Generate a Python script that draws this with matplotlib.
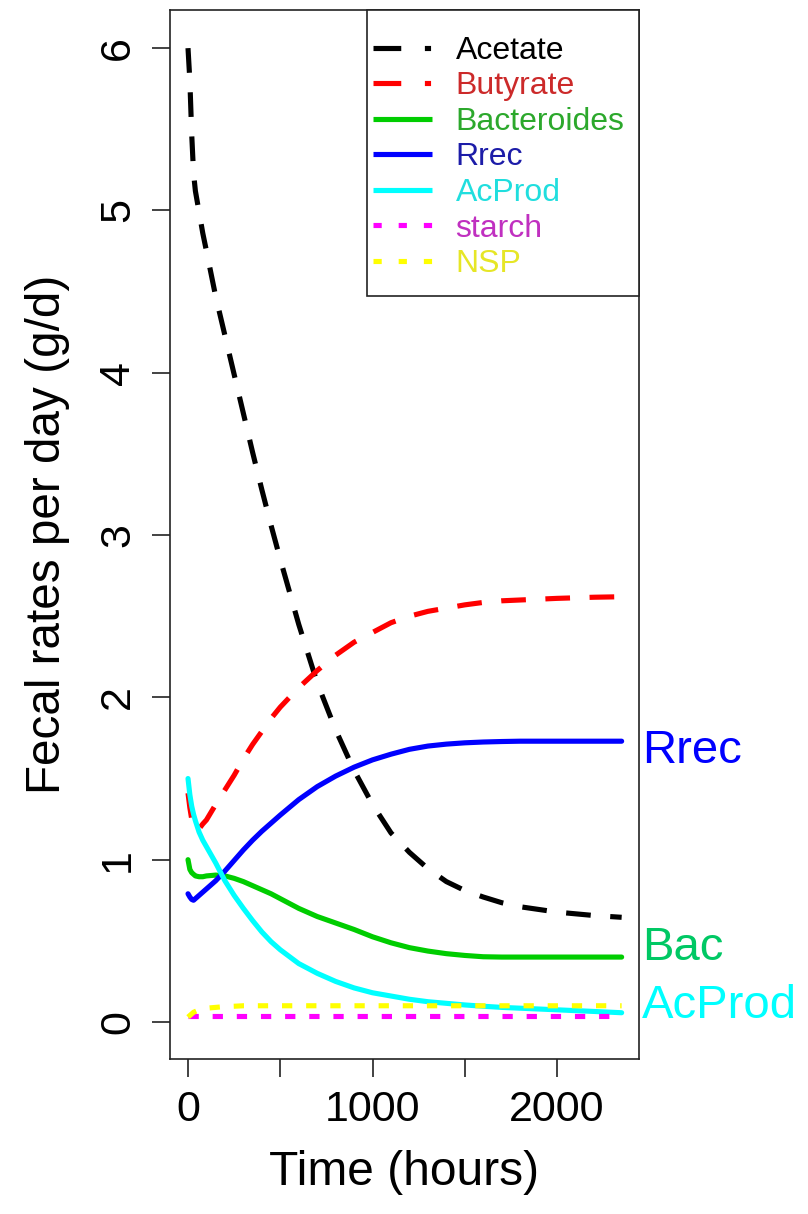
import matplotlib
matplotlib.use("Agg")
import matplotlib.pyplot as plt
from matplotlib.lines import Line2D
from matplotlib.patches import Rectangle
from matplotlib.transforms import blended_transform_factory

plt.rcParams["font.family"] = ["Liberation Sans", "DejaVu Sans"]

# Simulation output sampled over time (hours)
time_h = [0, 10, 20, 30, 40, 60, 80, 100, 150, 200, 250, 300, 350, 400, 450,
          500, 600, 700, 800, 900, 1000, 1100, 1200, 1300, 1400, 1500, 1600,
          1700, 1800, 2000, 2200, 2350]

acetate = [6.00, 5.80, 5.47, 5.23, 5.12, 4.99, 4.86, 4.75, 4.47, 4.23, 3.99,
           3.75, 3.51, 3.28, 3.06, 2.85, 2.45, 2.09, 1.80, 1.55, 1.34, 1.165,
           1.045, 0.945, 0.865, 0.81, 0.77, 0.735, 0.71, 0.677, 0.656, 0.645]

butyrate = [1.41, 1.32, 1.25, 1.20, 1.18, 1.19, 1.22, 1.245, 1.34, 1.43, 1.52,
            1.62, 1.71, 1.79, 1.87, 1.94, 2.06, 2.165, 2.26, 2.34, 2.40, 2.46,
            2.50, 2.53, 2.55, 2.57, 2.585, 2.595, 2.60, 2.61, 2.617, 2.62]

bacteroides = [1.00, 0.94, 0.92, 0.91, 0.90, 0.895, 0.895, 0.90, 0.905, 0.90,
               0.885, 0.865, 0.84, 0.815, 0.79, 0.76, 0.70, 0.65, 0.61, 0.57,
               0.525, 0.488, 0.458, 0.437, 0.421, 0.41, 0.402, 0.40, 0.40,
               0.40, 0.40, 0.40]

rrec = [0.79, 0.77, 0.755, 0.75, 0.76, 0.78, 0.80, 0.82, 0.87, 0.93, 0.995,
        1.06, 1.12, 1.175, 1.225, 1.275, 1.37, 1.45, 1.515, 1.57, 1.615, 1.65,
        1.68, 1.70, 1.712, 1.72, 1.725, 1.728, 1.73, 1.73, 1.73, 1.73]

acprod = [1.50, 1.40, 1.33, 1.28, 1.24, 1.17, 1.12, 1.08, 0.98, 0.87, 0.78,
          0.70, 0.625, 0.555, 0.495, 0.445, 0.36, 0.30, 0.25, 0.21, 0.18, 0.16,
          0.14, 0.125, 0.115, 0.105, 0.097, 0.09, 0.085, 0.075, 0.065, 0.057]

starch = [0.04] * 32

nsp = [0.03, 0.04, 0.05, 0.06, 0.065, 0.075, 0.08, 0.085, 0.09, 0.095, 0.097,
       0.10, 0.10, 0.10, 0.10, 0.10, 0.10, 0.10, 0.10, 0.10, 0.10, 0.10, 0.10,
       0.10, 0.10, 0.10, 0.10, 0.10, 0.10, 0.10, 0.10, 0.10]

series_names = ["Acetate", "Butyrate", "Bacteroides", "Rrec", "AcProd",
                "starch", "NSP"]
series_colors = ["#000000", "#ff0000", "#00cd00", "#0000ff", "#00ffff",
                 "#ff00ff", "#ffff00"]
legend_text_colors = ["#000000", "#cc2a2a", "#2ca82c", "#1c1ca8", "#20dede",
                      "#c030c0", "#e6e626"]

y_ticks = [0, 1, 2, 3, 4, 5, 6]
x_ticks = [0, 500, 1000, 1500, 2000]
x_tick_labels = ["0", "", "1000", "", "2000"]

side_labels = ["Rrec", "Bac", "AcProd"]
side_label_y = [1.596, 0.382, 0.025]
side_label_colors = ["#0000ff", "#00c864", "#00ffff"]

LW = 3.7
DASH = (4.8, 3.8)
DOT = (2.0, 2.7)

fig = plt.figure(figsize=(8.08, 12.14), dpi=100)
ax = fig.add_axes([170 / 808, 1 - 1059 / 1214, 469 / 808, 1049 / 1214])

all_values = [acetate, butyrate, bacteroides, rrec, acprod, starch, nsp]
styles = [DASH, DASH, None, None, None, DOT, DOT]
for name, vals, col, st in zip(series_names, all_values, series_colors, styles):
    line, = ax.plot(time_h, vals, color=col, lw=LW, label=name,
                    solid_capstyle="round", solid_joinstyle="round",
                    dash_capstyle="butt")
    if st is not None:
        line.set_dashes(st)

ax.set_xlim(-97.6, 2444)
ax.set_ylim(-0.228, 6.235)

ax.set_xticks(x_ticks)
ax.set_xticklabels(x_tick_labels)
ax.set_yticks(y_ticks)
ax.set_yticklabels([str(v) for v in y_ticks])
ax.tick_params(axis="both", direction="out", length=13, width=1.2,
               labelsize=31, color="#222222")
ax.tick_params(axis="x", pad=9)
ax.tick_params(axis="y", pad=10, labelrotation=90)
for lbl in ax.get_yticklabels():
    lbl.set_va("center")
for sp in ax.spines.values():
    sp.set_linewidth(1.2)
    sp.set_color("#222222")

ax.set_xlabel("Time (hours)", fontsize=34.5, labelpad=15)
ax.set_ylabel("Fecal rates per day (g/d)", fontsize=34.3, labelpad=20)

# Legend box in the upper right corner of the plot
box_left = (367 - 170) / 469
box_bottom = (1059 - 296) / 1049
ax.add_patch(Rectangle((box_left, box_bottom), 1 - box_left, 1 - box_bottom,
                       transform=ax.transAxes, facecolor="white",
                       edgecolor="#222222", lw=1.2, zorder=4, clip_on=False))

# Dash-dot handles for the acids and dotted handles for the substrates
handles = []
for i, (name, col) in enumerate(zip(series_names, series_colors)):
    h = Line2D([0], [0], color=col, lw=LW, solid_capstyle="butt",
               dash_capstyle="butt")
    if i < 2:
        h.set_dashes((5.4, 4.6, 1.2, 10))
    elif i >= 5:
        h.set_dashes((1.6, 3.3))
    handles.append(h)
leg = ax.legend(handles, series_names, loc="upper left",
                bbox_to_anchor=(box_left, 0.9816), fontsize=23,
                frameon=False, borderaxespad=0, borderpad=0.2,
                handlelength=1.82, handletextpad=0.75, labelspacing=0.175,
                labelcolor=legend_text_colors)
leg.set_zorder(5)

# Labels naming the end of selected curves, just outside the plot box
trans = blended_transform_factory(ax.transAxes, ax.transData)
for txt, yv, col in zip(side_labels, side_label_y, side_label_colors):
    ax.text(1.006, yv, txt, transform=trans, color=col, fontsize=34,
            ha="left", va="baseline", clip_on=False)

fig.savefig("out.png", dpi=100)
